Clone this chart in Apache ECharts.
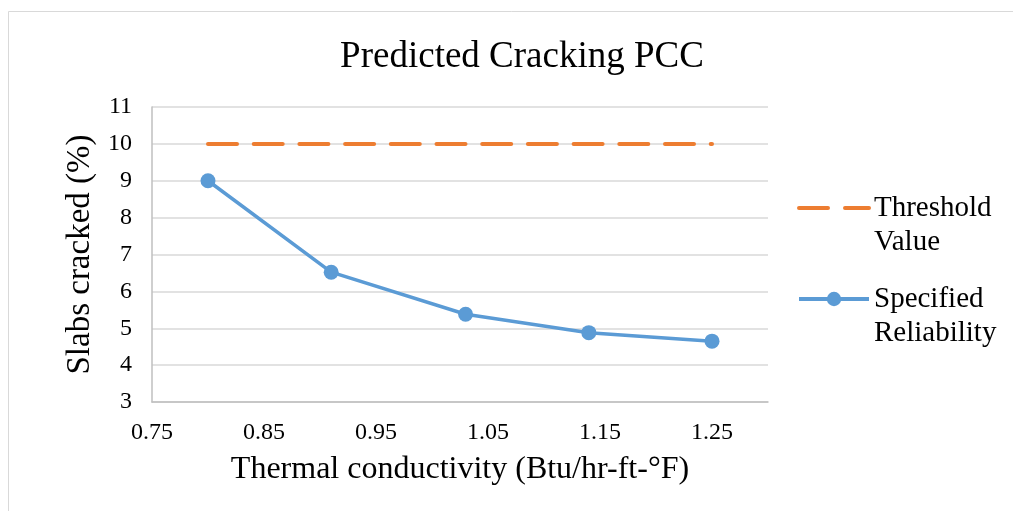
<!DOCTYPE html>
<html>
<head>
<meta charset="utf-8">
<title>Predicted Cracking PCC</title>
<script src="https://cdn.jsdelivr.net/npm/echarts@6/dist/echarts.min.js"></script>
<style>
  html, body { margin: 0; padding: 0; background: #fff; }
  #chart { width: 1013px; height: 511px; }
</style>
</head>
<body>
<div id="chart"></div>
<script>
// Thermal conductivity of the PCC (Btu/hr-ft-°F)
const conductivity = [0.80, 0.91, 1.03, 1.14, 1.25];
// Percent slabs cracked at the specified reliability
const specifiedReliability = [9.0, 6.52, 5.38, 4.88, 4.65];
// Design threshold for slab cracking (%)
const thresholdValue = [10, 10, 10, 10, 10];
// Tick labels along the conductivity axis
const xTickLabels = ['0.75', '0.85', '0.95', '1.05', '1.15', '1.25'];
// Tick labels along the cracking axis
const yTickLabels = ['3', '4', '5', '6', '7', '8', '9', '10', '11'];

const seriesNames = ['Threshold Value', 'Specified Reliability'];
const FONT = '"Liberation Serif", "Times New Roman", serif';
const ORANGE = '#ED7D31';
const BLUE = '#5B9BD5';
const DASH = [29, 16.7];

const chart = echarts.init(document.getElementById('chart'), null, { renderer: 'canvas' });

const toPairs = (xs, ys) => xs.map((x, i) => [x, ys[i]]);

const legendText = {
  fontFamily: FONT,
  fontSize: 29,
  lineHeight: 34,
  color: '#000'
};
// two-line legend names, with the icon level with the first line
const legendFormatter = name => ' \n' + name.replace(' ', '\n');

chart.setOption({
  backgroundColor: '#fff',
  animation: false,
  graphic: [{
    type: 'rect',
    shape: { x: 8.5, y: 11.5, width: 1020, height: 520 },
    style: { fill: 'none', stroke: '#D9D9D9', lineWidth: 1 },
    silent: true,
    z: -10
  }],
  title: {
    text: 'Predicted Cracking PCC',
    left: 517,
    textAlign: 'center',
    top: 34,
    textStyle: { fontFamily: FONT, fontSize: 37, fontWeight: 'normal', color: '#000' }
  },
  legend: [{
    data: [seriesNames[0]],
    orient: 'vertical',
    left: 797,
    top: 157,
    padding: 0,
    itemWidth: 70,
    itemHeight: 18,
    itemGap: 0,
    formatter: legendFormatter,
    lineStyle: { color: ORANGE, width: 4, type: [29, 17], cap: 'round' },
    itemStyle: { opacity: 0 },
    textStyle: legendText
  }, {
    data: [seriesNames[1]],
    orient: 'vertical',
    left: 797,
    top: 248,
    padding: 0,
    itemWidth: 70,
    itemHeight: 18,
    itemGap: 0,
    formatter: legendFormatter,
    lineStyle: { color: BLUE, width: 4 },
    itemStyle: { color: BLUE },
    textStyle: legendText
  }],
  grid: { left: 152, right: 245, top: 107, bottom: 109, containLabel: false },
  xAxis: {
    type: 'value',
    min: 0.75,
    max: 1.30,
    interval: 0.1,
    name: 'Thermal conductivity (Btu/hr-ft-°F)',
    nameLocation: 'middle',
    nameGap: 52,
    nameTextStyle: { fontFamily: FONT, fontSize: 32, color: '#000' },
    axisLine: { show: true, lineStyle: { color: '#BFBFBF', width: 1.5 } },
    axisTick: { show: false },
    splitLine: { show: false },
    axisLabel: {
      showMaxLabel: false,
      margin: 19,
      fontFamily: FONT,
      fontSize: 24,
      color: '#000',
      formatter: v => {
        const s = v.toFixed(2);
        return xTickLabels.includes(s) ? s : '';
      }
    }
  },
  yAxis: {
    type: 'value',
    min: 3,
    max: 11,
    interval: 1,
    name: 'Slabs cracked (%)',
    nameLocation: 'middle',
    nameGap: 52,
    nameTextStyle: { fontFamily: FONT, fontSize: 33, color: '#000' },
    axisLine: { show: true, lineStyle: { color: '#BFBFBF', width: 1.5 } },
    axisTick: { show: false },
    splitLine: { show: true, lineStyle: { color: '#D9D9D9', width: 1.5 } },
    axisLabel: {
      margin: 20,
      fontFamily: FONT,
      fontSize: 24,
      color: '#000',
      formatter: v => {
        const s = String(Math.round(v));
        return yTickLabels.includes(s) ? s : '';
      }
    }
  },
  series: [{
    name: seriesNames[0],
    type: 'line',
    data: toPairs(conductivity, thresholdValue),
    symbol: 'none',
    lineStyle: { color: ORANGE, width: 4, type: DASH, cap: 'round' },
    itemStyle: { color: ORANGE },
    z: 2
  }, {
    name: seriesNames[1],
    type: 'line',
    data: toPairs(conductivity, specifiedReliability),
    symbol: 'circle',
    symbolSize: 15,
    lineStyle: { color: BLUE, width: 3.5 },
    itemStyle: { color: BLUE },
    z: 3
  }]
});
</script>
</body>
</html>
